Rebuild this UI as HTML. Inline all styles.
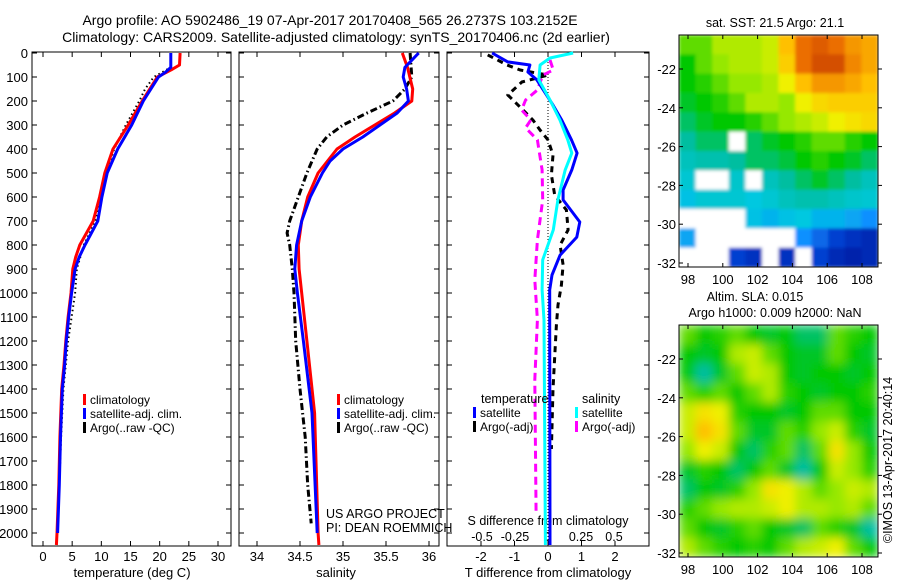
<!DOCTYPE html>
<html><head><meta charset="utf-8"><style>
html,body{margin:0;padding:0;background:#fff;}
svg{display:block;font-family:"Liberation Sans",sans-serif;}
</style></head><body>
<svg id="fig" width="900" height="580" xmlns="http://www.w3.org/2000/svg">
<defs>
<filter id="blurS" x="-5%" y="-5%" width="110%" height="110%"><feGaussianBlur stdDeviation="5" edgeMode="duplicate"/></filter>
<filter id="blurT" x="-5%" y="-5%" width="110%" height="110%"><feGaussianBlur stdDeviation="1.5" edgeMode="duplicate"/></filter>
<clipPath id="clip1"><rect x="679" y="35" width="199" height="232"/></clipPath>
<clipPath id="clip2"><rect x="679" y="325" width="199" height="232"/></clipPath>
</defs>
<g id="titles" font-size="14" text-anchor="middle">
<text x="330" y="25">Argo profile: AO 5902486_19 07-Apr-2017 20170408_565 26.2737S 103.2152E</text>
<text x="336" y="42">Climatology: CARS2009. Satellite-adjusted climatology: synTS_20170406.nc (2d earlier)</text>
</g>
</svg>
<script>
// ---------- data ----------
const depthTicks=[0,100,200,300,400,500,600,700,800,900,1000,1100,1200,1300,1400,1500,1600,1700,1800,1900,2000];
const tempTicks=[0,5,10,15,20,25,30];
const salTicks=[34,34.5,35,35.5,36];
const tdiffTicks=[-2,-1,0,1,2];
const sdiffTicks=[-0.5,-0.25,0,0.25,0.5];
const sdiffTickLabels=['-0.5','-0.25','0','0.25','0.5'];
const lonTicks=[98,100,102,104,106,108];
const latTicks=[-22,-24,-26,-28,-30,-32];

const tClimDepth=[0,50,70,100,200,300,400,500,600,700,800,850,900,1000,1100,1200,1300,1400,1600,1800,2000,2050];
const tClim=[23.5,23.4,22,19.6,17,14.6,12,10.6,9.7,8.6,6.3,5.6,5.1,4.8,4.3,3.9,3.6,3.2,2.9,2.7,2.4,2.3];
const tSatDepth=[0,60,80,100,200,300,400,500,600,700,800,850,900,1000,1100,1200,1300,1400,1600,1800,2000];
const tSat=[21.9,21.9,21,19.8,17.2,15.2,12.8,11,10.1,9.4,7.2,6.2,5.5,4.9,4.4,4.0,3.7,3.3,3.0,2.8,2.5];
const tArgoDepth=[0,60,100,150,200,300,400,500,600,700,800,900,1000,1200,1400,1600,1800,1960];
const tArgo=[21.9,21.9,19,17.5,16.5,14.2,12.2,10.8,10,9,7,5.8,5.5,4.3,3.5,3.1,2.8,2.6];

const sClimDepth=[0,60,150,200,250,300,350,400,500,600,700,800,900,1000,1200,1500,2000,2050];
const sClim=[35.69,35.75,35.81,35.8,35.6,35.37,35.14,34.93,34.71,34.59,34.52,34.48,34.49,34.52,34.58,34.67,34.71,34.72];
const sSatDepth=[0,30,60,100,150,200,250,300,350,400,450,500,600,700,800,900,1000,1200,1500,2000];
const sSat=[35.88,35.8,35.72,35.7,35.74,35.76,35.63,35.43,35.23,35.0,34.85,34.76,34.62,34.52,34.46,34.44,34.47,34.54,34.64,34.7];
const sArgoDepth=[0,100,150,200,250,300,350,400,500,600,700,750,800,900,1000,1200,1400,1600,1800,1960];
const sArgo=[35.78,35.8,35.72,35.58,35.28,35.0,34.81,34.7,34.58,34.48,34.38,34.35,34.38,34.41,34.43,34.45,34.5,34.56,34.59,34.63];

const dTSatDepth=[0,37,50,79,112,162,217,279,362,417,487,571,612,704,767,842,925,987,1112,2050];
const dTSat=[-1.67,-1.2,-0.54,-0.6,-0.33,-0.1,0.15,0.41,0.7,0.87,0.71,0.45,0.45,0.95,0.86,0.36,0.12,0.05,0.05,0.06];
const dSSatDepth=[0,21,50,112,196,279,362,417,487,612,737,862,987,1112,2050];
const dSSat=[0.19,0.015,-0.06,-0.07,0.015,0.09,0.15,0.18,0.13,0.075,0.04,-0.04,-0.045,-0.03,-0.02];
const dTArgoDepth=[8,50,71,92,121,175,237,279,321,362,425,508,592,654,737,800,883,967,1050,1133,1400,1650];
const dTArgo=[-1.8,-1.22,-0.83,0,-0.78,-1.2,-0.75,-0.45,-0.24,0,0.15,0.1,0.2,0.55,0.6,0.36,0.45,0.4,0.3,0.25,0.15,0.1];
const dSArgoDepth=[29,71,92,154,196,237,279,312,362,487,612,779,946,1112,1362,1925];
const dSArgo=[0.015,0.04,-0.04,-0.08,-0.17,-0.2,-0.13,-0.17,-0.08,-0.045,-0.04,-0.08,-0.1,-0.08,-0.1,-0.09];

const sstGrid=[
[.55,.55,.6,.6,.6,.62,.75,.85,.88,.85,.8,.78],
[.5,.55,.58,.6,.6,.62,.72,.85,.9,.9,.82,.78],
[.5,.52,.55,.58,.58,.6,.65,.75,.8,.8,.78,.75],
[.48,.5,.52,.55,.6,.6,.58,.65,.7,.72,.72,.72],
[.45,.48,.5,.5,.52,.55,.58,.6,.62,.65,.68,.7],
[.42,.45,.45,null,.45,.48,.5,.52,.55,.55,.52,.5],
[.38,.4,.4,.42,.45,.45,.47,.5,.52,.5,.48,.45],
[.35,null,null,.36,null,.38,.42,.45,.48,.45,.42,.38],
[.32,.35,.35,.35,.33,.35,.38,.4,.4,.38,.36,.35],
[null,null,null,null,.32,.3,.32,.33,.3,.3,.28,.25],
[.28,null,null,null,null,null,null,.25,.2,.15,.12,.1],
[null,null,null,.15,.12,null,.12,null,.15,.1,.08,.1]];
const slaGrid=[
[.55,.5,.52,.55,.5,.48,.5,.45,.45,.55,.52,.5],
[.5,.48,.5,.6,.62,.55,.5,.48,.48,.55,.5,.48],
[.5,.42,.48,.55,.62,.6,.5,.48,.5,.5,.48,.5],
[.55,.52,.55,.5,.55,.6,.52,.5,.48,.5,.5,.52],
[.62,.68,.65,.52,.5,.5,.48,.5,.55,.55,.5,.5],
[.62,.75,.68,.55,.48,.48,.55,.52,.58,.62,.52,.48],
[.58,.65,.62,.5,.45,.52,.55,.45,.55,.68,.58,.5],
[.48,.52,.5,.45,.5,.55,.48,.42,.5,.62,.58,.52],
[.45,.5,.48,.52,.58,.68,.65,.6,.55,.58,.62,.6],
[.52,.55,.58,.6,.6,.62,.65,.6,.6,.58,.6,.55],
[.55,.5,.48,.52,.55,.5,.48,.45,.55,.52,.48,.42],
[.6,.55,.52,.5,.52,.5,.55,.6,.62,.65,.55,.5]];

// ---------- helpers ----------
const NS='http://www.w3.org/2000/svg';
const svg=document.getElementById('fig');
function mk(tag,attrs,parent){const e=document.createElementNS(NS,tag);for(const k in attrs)e.setAttribute(k,attrs[k]);(parent||svg).appendChild(e);return e;}
const Y0=53,YB=546,PPD=0.24;
const yD=d=>Y0+d*PPD;
function lin(d0,d1,p0,p1){return v=>p0+(v-d0)*(p1-p0)/(d1-d0);}
function panelFrame(x0,x1,name,labels){
  const g=mk('g',{});
  
  
  mk('rect',{x:x0,y:Y0-1,width:x1-x0,height:YB-Y0+1,fill:'none',stroke:'#000','stroke-width':1},g);
  depthTicks.forEach(d=>{const y=yD(d);
    mk('line',{x1:x0,x2:x0+5,y1:y,y2:y,stroke:'#000'},g);
    mk('line',{x1:x1-5,x2:x1,y1:y,y2:y,stroke:'#000'},g);
    if(labels){const t=mk('text',{x:x0-4,y:y+5,'font-size':13,'text-anchor':'end'},g);t.textContent=d;
      
      }
  });
  return g;
}
function xTicks(g,vals,labels,sx,ylab,fs){
  vals.forEach((v,i)=>{const x=sx(v);
    mk('line',{x1:x,x2:x,y1:YB,y2:YB-5,stroke:'#000'},g);
    mk('line',{x1:x,x2:x,y1:Y0-1,y2:Y0+4,stroke:'#000'},g);
    const t=mk('text',{x:x,y:ylab,'font-size':fs||13,'text-anchor':'middle'},g);t.textContent=labels[i];
    
    
  });
}
function line(g,xs,ds,sx,style,name){
  const pts=xs.map((v,i)=>sx(v).toFixed(1)+','+yD(ds[i]).toFixed(1)).join(' ');
  const p=mk('polyline',Object.assign({points:pts,fill:'none','stroke-linejoin':'round'},style),g);
  
  
}
function legend(g,x,y,items){
  items.forEach((it,i)=>{const yy=y+i*14;
    mk('rect',{x:x,y:yy-10,width:3,height:11,fill:it[0]},g);
    const t=mk('text',{x:x+7,y:yy,'font-size':12},g);t.textContent=it[1];
    
    
  });
}
function txt(g,x,y,s,fs,anchor,name){const t=mk('text',{x:x,y:y,'font-size':fs,'text-anchor':anchor||'start'},g);t.textContent=s;
  
  return t;}

// ---------- panel 1: temperature ----------
const sxT=lin(0,30,43,218);
const g1=panelFrame(32,231,'temperature-panel',true);
xTicks(g1,tempTicks,tempTicks,sxT,561);
txt(g1,132,577,'temperature (deg C)',13,'middle','x-axis-title-temperature');
line(g1,tArgo,tArgoDepth,sxT,{stroke:'#000','stroke-width':2,'stroke-dasharray':'1.5 3'},'argo-temperature-line');
line(g1,tClim,tClimDepth,sxT,{stroke:'#f00','stroke-width':3},'climatology-temperature-line');
line(g1,tSat,tSatDepth,sxT,{stroke:'#00f','stroke-width':3},'satellite-temperature-line');
legend(g1,83,404,[['#f00','climatology'],['#00f','satellite-adj. clim.'],['#000','Argo(..raw -QC)']]);

// ---------- panel 2: salinity ----------
const sxS=lin(34,36,257,429);
const g2=panelFrame(239,439,'salinity-panel',false);
xTicks(g2,salTicks,salTicks,sxS,561);
txt(g2,336,577,'salinity',13,'middle','x-axis-title-salinity');
line(g2,sArgo,sArgoDepth,sxS,{stroke:'#000','stroke-width':3,'stroke-dasharray':'7 3 1.5 3'},'argo-salinity-line');
line(g2,sClim,sClimDepth,sxS,{stroke:'#f00','stroke-width':3},'climatology-salinity-line');
line(g2,sSat,sSatDepth,sxS,{stroke:'#00f','stroke-width':3},'satellite-salinity-line');
legend(g2,337,404,[['#f00','climatology'],['#00f','satellite-adj. clim.'],['#000','Argo(..raw -QC)']]);
txt(g2,326,518,'US ARGO PROJECT',12.5,'start','project-credit');
txt(g2,326,532,'PI: DEAN ROEMMICH',12.5,'start','pi-credit');

// ---------- panel 3: differences ----------
const sxDT=lin(0,1,548,581.5);
const sxDS=lin(0,0.5,548,614);
const g3=panelFrame(447,649,'difference-panel',false);
xTicks(g3,tdiffTicks,tdiffTicks,sxDT,561);
sdiffTicks.forEach((v,i)=>{txt(g3,sxDS(v),541,sdiffTickLabels[i],12.5,'middle','s-diff-tick-label');});
txt(g3,548,525,'S difference from climatology',12.5,'middle','s-axis-title');
txt(g3,548,577,'T difference from climatology',13,'middle','t-axis-title');
mk('line',{x1:548,x2:548,y1:Y0,y2:YB,stroke:'#000','stroke-width':1,'stroke-dasharray':'1 2'},g3);
line(g3,dTArgo,dTArgoDepth,sxDT,{stroke:'#000','stroke-width':3,'stroke-dasharray':'6 5'},'argo-t-diff-line');
line(g3,dSArgo,dSArgoDepth,sxDS,{stroke:'#f0f','stroke-width':3,'stroke-dasharray':'8 5'},'argo-s-diff-line');
line(g3,dTSat,dTSatDepth,sxDT,{stroke:'#00f','stroke-width':3},'satellite-t-diff-line');
line(g3,dSSat,dSSatDepth,sxDS,{stroke:'#0ff','stroke-width':3},'satellite-s-diff-line');
txt(g3,481,403,'temperature',12.5,'start','legend-heading-temperature');
txt(g3,582,403,'salinity',12.5,'start','legend-heading-salinity');
legend(g3,473,417,[['#00f','satellite'],['#000','Argo(-adj)']]);
legend(g3,575,417,[['#0ff','satellite'],['#f0f','Argo(-adj)']]);

// ---------- maps ----------
const cmapStops=[[0,[0,0,128]],[0.15,[0,64,208]],[0.25,[16,144,255]],[0.33,[0,200,224]],[0.42,[0,190,160]],[0.5,[0,200,0]],[0.58,[150,232,0]],[0.65,[240,240,0]],[0.75,[255,192,0]],[0.85,[235,110,0]],[0.95,[190,50,0]],[1,[170,30,0]]];
function cmap(v){for(let i=1;i<cmapStops.length;i++){const a=cmapStops[i-1],b=cmapStops[i];
  if(v<=b[0]){const t=(v-a[0])/(b[0]-a[0]);return 'rgb('+a[1].map((c,k)=>Math.round(c+(b[1][k]-c)*t)).join(',')+')';}}
  return 'rgb(170,30,0)';}
function map(top,grid,name,clip,filt){
  const x0=679,x1=878,y1=top+232;
  const sx=lin(98,108,688,862), sy=lin(-22,-32,top+34,top+228);
  const g=mk('g',{});
  
  
  const cg=mk('g',{'clip-path':'url(#'+clip+')'},g);
  const fg=mk('g',{filter:'url(#'+filt+')'},cg);
  const rows=grid.length, cols=grid[0].length;
  const cw=(x1-x0)/cols, ch=(y1-top)/rows;
  grid.forEach((row,r)=>row.forEach((v,c)=>{
    const cell=mk('rect',{x:x0+c*cw,y:top+r*ch,width:cw+0.5,height:ch+0.5,fill:v===null?'#fff':cmap(v)},fg);
    
    
  }));
  mk('rect',{x:x0,y:top,width:x1-x0,height:y1-top,fill:'none',stroke:'#000'},g);
  lonTicks.forEach(v=>{const x=sx(v);
    mk('line',{x1:x,x2:x,y1:top,y2:top+4,stroke:'#000'},g);
    mk('line',{x1:x,x2:x,y1:y1,y2:y1-4,stroke:'#000'},g);
    txt(g,x,y1+17,String(v),13,'middle','lon-tick-label');});
  latTicks.forEach(v=>{const y=sy(v);
    mk('line',{x1:x0,x2:x0+4,y1:y,y2:y,stroke:'#000'},g);
    mk('line',{x1:x1,x2:x1+4,y1:y,y2:y,stroke:'#000'},g);
    txt(g,x0-3,y+5,String(v),13,'end','lat-tick-label');});
  return g;
}
const gm1=map(35,sstGrid,'sst-map','clip1','blurT');
txt(gm1,775,27,'sat. SST: 21.5 Argo: 21.1',12.5,'middle','sst-map-title');
const gm2=map(325,slaGrid,'sla-map','clip2','blurS');
txt(gm2,755,301,'Altim. SLA: 0.015',12.5,'middle','sla-map-title');
txt(gm2,775,317,'Argo h1000: 0.009 h2000: NaN',12.5,'middle','sla-map-subtitle');
const ts=txt(svg,0,0,'©IMOS 13-Apr-2017 20:40:14',12.5,'middle','timestamp');
ts.setAttribute('transform','translate(892,460) rotate(-90)');
</script>
</body></html>
